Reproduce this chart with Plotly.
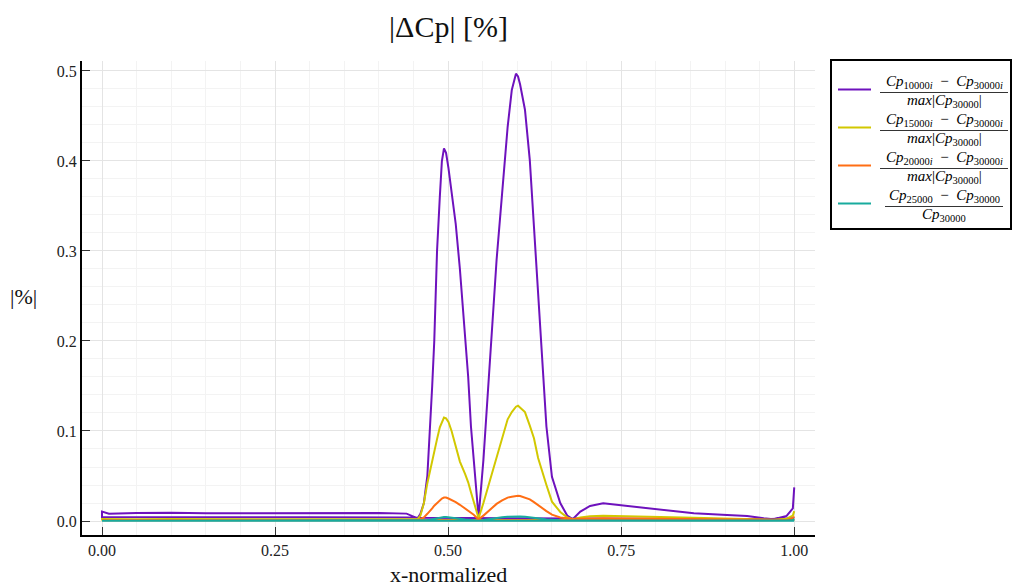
import plotly.graph_objects as go

# ---------------- data ----------------
x_upper = [0.0, 0.01, 0.05, 0.1, 0.15, 0.2, 0.25, 0.3, 0.35, 0.4, 0.44, 0.452, 0.456,
           0.46, 0.465, 0.47, 0.474, 0.477, 0.48, 0.484, 0.488, 0.491, 0.494,
           0.497, 0.5005, 0.505, 0.511, 0.517, 0.5246, 0.529, 0.533, 0.537, 0.541,
           0.544, 0.551, 0.557, 0.563, 0.57, 0.578, 0.586, 0.592, 0.598, 0.601,
           0.604, 0.611, 0.618, 0.624, 0.63, 0.635, 0.642, 0.65, 0.662, 0.672,
           0.68, 0.691, 0.705, 0.724, 0.758, 0.806, 0.855, 0.903, 0.932, 0.956,
           0.97, 0.989, 0.998, 1.0]

d10000_upper = [0.0104, 0.0080, 0.0088, 0.0092, 0.0086, 0.0088, 0.0085, 0.0087, 0.0086, 0.0090, 0.0082, 0.0045, 0.0030,
                0.0080, 0.020, 0.050, 0.100, 0.150, 0.200, 0.300, 0.360, 0.400, 0.414,
                0.409, 0.392, 0.365, 0.330, 0.280, 0.200, 0.160, 0.105, 0.065, 0.030,
                0.004, 0.068, 0.142, 0.216, 0.290, 0.364, 0.438, 0.479, 0.497, 0.494,
                0.485, 0.457, 0.401, 0.327, 0.253, 0.179, 0.105, 0.049, 0.020, 0.006,
                0.002, 0.0104, 0.0167, 0.0197, 0.0167, 0.0122, 0.0085, 0.0067, 0.0056, 0.0030,
                0.0020, 0.0056, 0.0140, 0.0374]

d15000_upper = [0.0022, 0.0020, 0.0020, 0.0021, 0.0020, 0.0020, 0.0020, 0.0020, 0.0020, 0.0021, 0.0020, 0.0020, 0.0020,
                0.0060, 0.020, 0.042, 0.057, 0.068, 0.078, 0.091, 0.104, 0.110, 0.115,
                0.114, 0.110, 0.100, 0.083, 0.066, 0.052, 0.043, 0.032, 0.022, 0.012,
                0.003, 0.020, 0.036, 0.051, 0.069, 0.092, 0.113, 0.121, 0.127, 0.128,
                0.126, 0.121, 0.106, 0.092, 0.070, 0.057, 0.040, 0.0215, 0.010, 0.004,
                0.002, 0.004, 0.0052, 0.0058, 0.0055, 0.0045, 0.0035, 0.0025, 0.0020, 0.0015,
                0.0015, 0.0025, 0.0060, 0.0110]

d20000_upper = [0.0012, 0.0010, 0.0010, 0.0010, 0.0010, 0.0010, 0.0010, 0.0010, 0.0010, 0.0010, 0.0010, 0.0010, 0.0010,
                0.002, 0.004, 0.008, 0.011, 0.014, 0.017, 0.020, 0.023, 0.025, 0.026,
                0.026, 0.025, 0.0235, 0.021, 0.018, 0.014, 0.012, 0.0095, 0.007, 0.004,
                0.002, 0.006, 0.010, 0.014, 0.019, 0.023, 0.026, 0.027, 0.028, 0.028,
                0.0278, 0.026, 0.024, 0.021, 0.018, 0.015, 0.011, 0.007, 0.004, 0.003,
                0.002, 0.0025, 0.003, 0.003, 0.0028, 0.0025, 0.002, 0.0018, 0.0015, 0.0012,
                0.001, 0.0012, 0.003, 0.005]

d25000_upper = [0.0004, 0.0004, 0.0004, 0.0004, 0.0004, 0.0004, 0.0004, 0.0004, 0.0004, 0.0004, 0.0004, 0.0004, 0.0004,
                0.0004, 0.0006, 0.0010, 0.0015, 0.0020, 0.0025, 0.0032, 0.0038, 0.0042, 0.0044,
                0.0044, 0.0042, 0.0038, 0.0032, 0.0025, 0.0018, 0.0014, 0.0010, 0.0007, 0.0005,
                0.0004, 0.0010, 0.0018, 0.0026, 0.0034, 0.0042, 0.0048, 0.0051, 0.0052, 0.0052,
                0.0051, 0.0048, 0.0043, 0.0037, 0.0030, 0.0024, 0.0017, 0.0011, 0.0007, 0.0005,
                0.0004, 0.0005, 0.0006, 0.0006, 0.0006, 0.0005, 0.0005, 0.0004, 0.0004, 0.0004,
                0.0004, 0.0005, 0.0010, 0.0020]

x_lower = [0.0, 0.05, 0.1, 0.2, 0.3, 0.4, 0.44, 0.46, 0.5, 0.55, 0.6, 0.65, 0.7, 0.8, 0.9, 0.95, 1.0]
d10000_lower = [0.0045, 0.0042, 0.0041, 0.0042, 0.0041, 0.0042, 0.0040, 0.0035, 0.0032, 0.0030, 0.0030, 0.0028, 0.0026, 0.0024, 0.0022, 0.0020, 0.0030]
d15000_lower = [0.0018, 0.0016, 0.0016, 0.0016, 0.0015, 0.0015, 0.0015, 0.0014, 0.0012, 0.0012, 0.0012, 0.0011, 0.0010, 0.0010, 0.0010, 0.0010, 0.0015]
d20000_lower = [0.0009, 0.0008, 0.0008, 0.0008, 0.0008, 0.0008, 0.0008, 0.0008, 0.0007, 0.0007, 0.0007, 0.0007, 0.0007, 0.0007, 0.0007, 0.0007, 0.0010]
d25000_lower = [0.0002, 0.0002, 0.0002, 0.0002, 0.0002, 0.0002, 0.0002, 0.0002, 0.0002, 0.0002, 0.0002, 0.0002, 0.0002, 0.0002, 0.0002, 0.0002, 0.0003]

series_colors = ["#6e12bd", "#d2c800", "#ff6e14", "#18ab9e"]
MINUS = "\u2002\u2212\u2002"
legend_num = [
    "<i>Cp</i><sub>10000<i>i</i></sub>" + MINUS + "<i>Cp</i><sub>30000<i>i</i></sub>",
    "<i>Cp</i><sub>15000<i>i</i></sub>" + MINUS + "<i>Cp</i><sub>30000<i>i</i></sub>",
    "<i>Cp</i><sub>20000<i>i</i></sub>" + MINUS + "<i>Cp</i><sub>30000<i>i</i></sub>",
    "<i>Cp</i><sub>25000</sub>" + MINUS + "<i>Cp</i><sub>30000</sub>",
]
legend_den = [
    "<i>max</i>|<i>Cp</i><sub>30000</sub>|",
    "<i>max</i>|<i>Cp</i><sub>30000</sub>|",
    "<i>max</i>|<i>Cp</i><sub>30000</sub>|",
    "<i>Cp</i><sub>30000</sub>",
]
title_text = "|\u0394Cp| [%]"
xlabel = "x-normalized"
ylabel = "|%|"

uppers = [d10000_upper, d15000_upper, d20000_upper, d25000_upper]
lowers = [d10000_lower, d15000_lower, d20000_lower, d25000_lower]
for u in uppers:
    assert len(u) == len(x_upper)
for l in lowers:
    assert len(l) == len(x_lower)

# ---------------- layout geometry ----------------
W, H = 1013, 588
L, R, T, B = 82, 815, 61, 535
FONT = "Liberation Serif"


def px(xp):
    return (xp - L) / (R - L)


def py(yp):
    return (B - yp) / (B - T)


fig = go.Figure()
for i in range(4):
    xs = list(reversed(x_lower)) + x_upper
    ys = list(reversed(lowers[i])) + uppers[i]
    fig.add_trace(go.Scatter(x=xs, y=ys, mode="lines",
                             line=dict(color=series_colors[i], width=2),
                             showlegend=False, hoverinfo="skip"))

axis_common = dict(
    showline=True, linecolor="black", linewidth=2,
    ticks="inside", ticklen=8, tickwidth=1.2, tickcolor="#333333",
    showgrid=True, gridcolor="#e4e4e4", gridwidth=1,
    zeroline=False, mirror=False,
    tickfont=dict(family=FONT, size=16, color="#222222"),
)

fig.update_xaxes(range=[-0.0289, 1.030], tick0=0, dtick=0.25, tickformat=".2f",
                 minor=dict(dtick=0.05, showgrid=True, gridcolor="#f3f3f3", ticks=""),
                 **axis_common)
fig.update_yaxes(range=[-0.01556, 0.5111], tick0=0, dtick=0.1, tickformat=".1f",
                 minor=dict(dtick=0.02, showgrid=True, gridcolor="#f3f3f3", ticks=""),
                 **axis_common)

shapes = []
annotations = []
# legend box
shapes.append(dict(type="rect", xref="paper", yref="paper",
                   x0=px(831), x1=px(1011), y0=py(60), y1=py(229),
                   line=dict(color="black", width=2), fillcolor="white", layer="above"))
line_ys = [89.5, 127.5, 165.5, 203.5]
bar_ext = [(880, 1008), (880, 1008), (880, 1008), (885, 1003)]
for i in range(4):
    ly = line_ys[i]
    shapes.append(dict(type="line", xref="paper", yref="paper",
                       x0=px(838), x1=px(871), y0=py(ly), y1=py(ly),
                       line=dict(color=series_colors[i], width=2), layer="above"))
    by = ly + 3
    bx0, bx1 = bar_ext[i]
    shapes.append(dict(type="line", xref="paper", yref="paper",
                       x0=px(bx0), x1=px(bx1), y0=py(by), y1=py(by),
                       line=dict(color="black", width=0.8), layer="above"))
    cx = px((bx0 + bx1) / 2)
    annotations.append(dict(text=legend_num[i], xref="paper", yref="paper",
                            x=cx, y=py(by - 10.5), xanchor="center", yanchor="middle",
                            showarrow=False, borderpad=0,
                            font=dict(family=FONT, size=15, color="black")))
    annotations.append(dict(text=legend_den[i], xref="paper", yref="paper",
                            x=cx, y=py(by + 8.5), xanchor="center", yanchor="middle",
                            showarrow=False, borderpad=0,
                            font=dict(family=FONT, size=15, color="black")))

annotations.append(dict(text=xlabel, xref="paper", yref="paper",
                        x=0.5, y=py(574), xanchor="center", yanchor="middle",
                        showarrow=False, font=dict(family=FONT, size=22, color="#111111")))
annotations.append(dict(text=ylabel, xref="paper", yref="paper",
                        x=px(23), y=py(296), xanchor="center", yanchor="middle",
                        showarrow=False, font=dict(family=FONT, size=22, color="#111111")))

fig.update_layout(
    width=W, height=H,
    margin=dict(l=L, r=W - R, t=T, b=H - B, pad=0),
    paper_bgcolor="white", plot_bgcolor="white",
    title=dict(text=title_text, x=0.5, xref="paper", xanchor="center",
               y=1 - 26 / H, yref="container", yanchor="middle",
               font=dict(family=FONT, size=30, color="#111111")),
    shapes=shapes, annotations=annotations,
    showlegend=False,
)

fig.write_html("out.html")
